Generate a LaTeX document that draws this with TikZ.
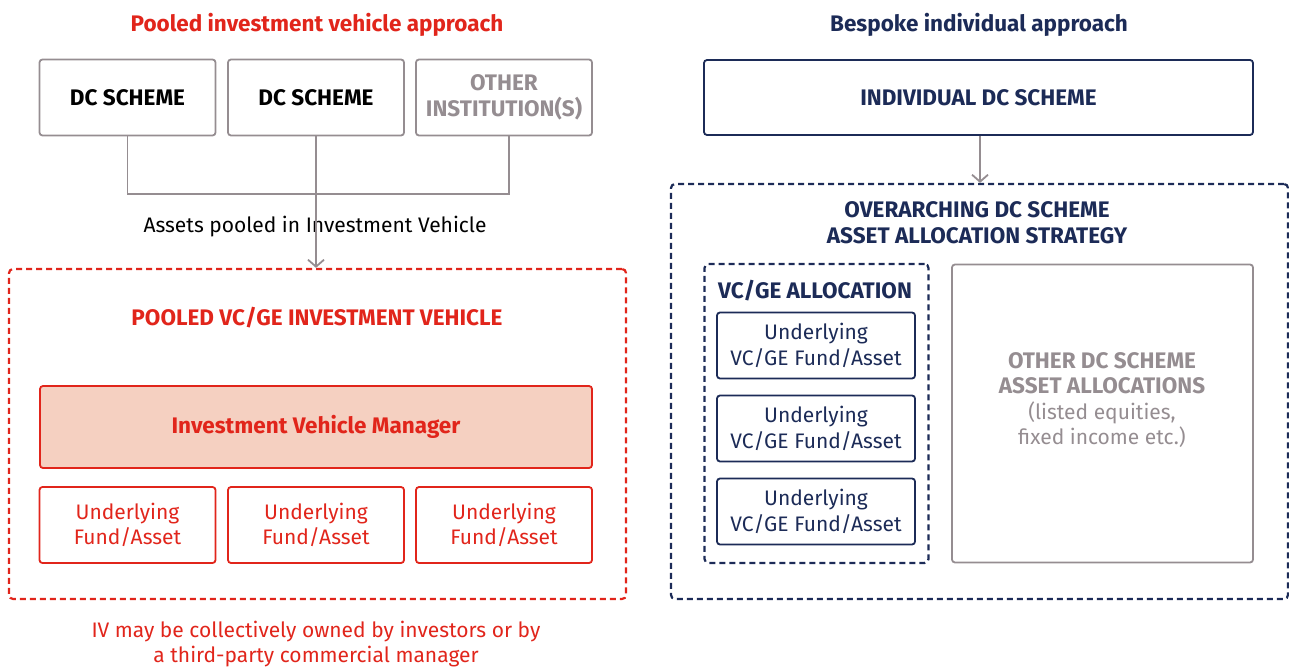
\documentclass[tikz,border=0pt]{standalone}
\usepackage{fontspec}
\setmainfont{Fira Sans}
\usetikzlibrary{arrows.meta}
\definecolor{ivred}{HTML}{E1251B}
\definecolor{ivnavy}{HTML}{1C2B57}
\definecolor{ivgrey}{HTML}{958D91}
\definecolor{ivpink}{HTML}{F5D0C1}
\newcommand{\bigtxt}{\fontsize{21}{25.5}\selectfont}
\newcommand{\boldtxt}{\fontsize{22.5}{26}\selectfont\bfseries}
\tikzset{box/.style={draw, rounded corners=3pt, line width=1.8pt, align=center, inner sep=0pt, font=\bigtxt},
	dashbox/.style={draw, rounded corners=4pt, line width=2.2pt, dash pattern=on 6pt off 4pt, inner sep=0pt},
	label/.style={align=center, inner sep=0pt, font=\bigtxt},
	link/.style={draw=ivgrey, line width=1.8pt}}

\begin{document}
\begin{tikzpicture}[x=1pt,y=-1pt]
	\useasboundingbox (0,0) rectangle (1289,671);
	\node[label, text=ivred, font=\boldtxt](ptitle) at (317,25) {Pooled investment vehicle approach};
	\node[label, text=ivnavy, font=\boldtxt](btitle) at (979,25) {Bespoke individual approach};
	\begin{scope}[every node/.style={box, draw=ivgrey, minimum width=176pt, minimum height=76pt}]
		\node[font=\boldtxt](dc1) at (127.5,97.5) {DC SCHEME};
		\node[font=\boldtxt](dc2) at (316,97.5) {DC SCHEME};
		\node[text=ivgrey, font=\boldtxt](inst) at (504,97.5) {OTHER\\INSTITUTION(S)};
	\end{scope}
	\node[dashbox, draw=ivred, minimum width=617pt, minimum height=330pt](pool) at (317.5,434) {};
	\node[label](assets) at (315,227) {Assets pooled in Investment Vehicle};
	\coordinate (join) at (316,194);
	\path[link] (dc1.south) |- (join) -| ([xshift=5pt]inst.south);
	\path[link, -{Straight Barb[length=7pt,width=16pt,line width=1.8pt]}] (dc2.south) -- (dc2.south |- pool.north);
	\node[label, text=ivred, font=\boldtxt](pooltitle) at (317,318) {POOLED VC/GE INVESTMENT VEHICLE};
	\node[box, draw=ivred, fill=ivpink, text=ivred, font=\boldtxt, minimum width=552pt, minimum height=82pt](mgr) at (316,427) {Investment Vehicle Manager};
	\begin{scope}[every node/.style={box, draw=ivred, text=ivred, minimum width=176pt, minimum height=76pt}]
		\node(uf1) at (127.5,525) {Underlying\\Fund/Asset};
		\node(uf2) at (316,525) {Underlying\\Fund/Asset};
		\node(uf3) at (504,525) {Underlying\\Fund/Asset};
	\end{scope}
	\node[label, text=ivred](ivnote) at (316,644) {IV may be collectively owned by investors or by\\a third-party commercial manager};
	\node[box, draw=ivnavy, text=ivnavy, font=\boldtxt, minimum width=549pt, minimum height=75pt](ind) at (978.5,97.5) {INDIVIDUAL DC SCHEME};
	\node[dashbox, draw=ivnavy, minimum width=617pt, minimum height=415pt](strat) at (979.5,391.5) {};
	\path[link, -{Straight Barb[length=7pt,width=16pt,line width=1.8pt]}] ([xshift=1.5pt]ind.south) -- ([xshift=1.5pt]ind.south |- strat.north);
	\node[label, text=ivnavy, font=\boldtxt](strattitle) at (977,223) {OVERARCHING DC SCHEME\\ASSET ALLOCATION STRATEGY};
	\node[dashbox, draw=ivnavy, minimum width=224pt, minimum height=299pt](vcge) at (816.5,413.5) {};
	\node[label, text=ivnavy, font=\boldtxt](vcgetitle) at (815,291) {VC/GE ALLOCATION};
	\begin{scope}[every node/.style={box, draw=ivnavy, text=ivnavy, minimum width=198pt, minimum height=66pt}]
		\node(vf1) at (816,345.5) {Underlying\\VC/GE Fund/Asset};
		\node(vf2) at (816,428.5) {Underlying\\VC/GE Fund/Asset};
		\node(vf3) at (816,511.5) {Underlying\\VC/GE Fund/Asset};
	\end{scope}
	\node[box, draw=ivgrey, minimum width=301pt, minimum height=298pt](other) at (1102.5,413.5) {};
	\node[label, text=ivgrey](othertxt) at (1102,400) {{\boldtxt OTHER DC SCHEME}\\{\boldtxt ASSET ALLOCATIONS}\\(listed equities,\\fixed income etc.)};
\end{tikzpicture}
\end{document}
